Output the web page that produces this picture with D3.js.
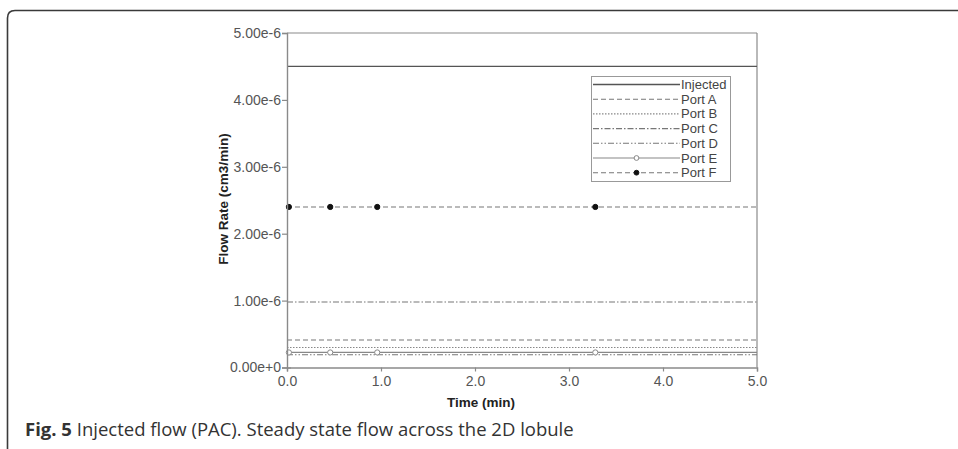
<!DOCTYPE html>
<html>
<head>
<meta charset="utf-8">
<script src="https://cdn.jsdelivr.net/npm/d3@7/dist/d3.min.js"></script>
<style>
  html, body { margin: 0; padding: 0; background: #fff; }
  svg { display: block; }
</style>
</head>
<body>
<svg id="fig" width="958" height="449"></svg>
<script>
// Steady-state flow rates (cm3/min) through the 2D lobule
const seriesNames = ["Injected", "Port A", "Port B", "Port C", "Port D", "Port E", "Port F"];
const seriesValues = [4.5e-6, 0.41e-6, 0.30e-6, 0.98e-6, 0.19e-6, 0.225e-6, 2.4e-6];
// Solver output times (min); the run spans 0 to 5 min
const sampleTimes = [0.02, 0.46, 0.96, 3.28];
const timeRange = [0, 5];
const xTickLabels = [0, 1, 2, 3, 4, 5];
const yTickLabels = [0, 1e-6, 2e-6, 3e-6, 4e-6, 5e-6];

const styles = {
  "Injected": { dash: null, color: "#555", width: 1.3, marker: null },
  "Port A":   { dash: "5,3", color: "#777", width: 1.1, marker: null },
  "Port B":   { dash: "1.5,1.5", color: "#888", width: 1.1, marker: null },
  "Port C":   { dash: "6,2,1.5,2", color: "#777", width: 1.1, marker: null },
  "Port D":   { dash: "6,2,1.5,2,1.5,2", color: "#777", width: 1.1, marker: null },
  "Port E":   { dash: null, color: "#888", width: 1.2, marker: "open" },
  "Port F":   { dash: "5,3", color: "#777", width: 1.1, marker: "filled" }
};

const svg = d3.select("#fig");
const sans = "'Liberation Sans', Arial, sans-serif";

// Figure frame with rounded top-left corner
svg.append("path")
  .attr("d", "M7.5,449 L7.5,18 Q7.5,10.5 15,10.5 L958,10.5")
  .attr("fill", "none").attr("stroke", "#3a3a3a").attr("stroke-width", 1.6);

const x = d3.scaleLinear().domain(timeRange).range([287, 757]);
const y = d3.scaleLinear().domain([0, 5e-6]).range([367.5, 33]);

const axisColor = "#8a8a8a";
const tickText = "#555";
const g = svg.append("g");

// plot box: top and right sides
g.append("line").attr("x1", x(0)).attr("x2", x(5)).attr("y1", y(5e-6)).attr("y2", y(5e-6))
  .attr("stroke", axisColor).attr("stroke-width", 1.2);
g.append("line").attr("x1", x(5)).attr("x2", x(5)).attr("y1", y(5e-6)).attr("y2", y(0))
  .attr("stroke", axisColor).attr("stroke-width", 1.2);

// series lines
const lineGen = d3.line().x(d => x(d[0])).y(d => y(d[1]));
seriesNames.forEach((name, i) => {
  const st = styles[name];
  const v = seriesValues[i];
  const pts = [timeRange[0], ...sampleTimes, timeRange[1]].map(t => [t, v]);
  g.append("path").datum(pts).attr("d", lineGen)
    .attr("fill", "none").attr("stroke", st.color)
    .attr("stroke-width", st.width)
    .attr("stroke-dasharray", st.dash);
});
seriesNames.forEach((name, i) => {
  const st = styles[name];
  if (!st.marker) return;
  g.selectAll(null).data(sampleTimes).enter().append("circle")
    .attr("cx", t => x(t)).attr("cy", y(seriesValues[i]))
    .attr("r", 2.6)
    .attr("fill", st.marker === "filled" ? "#111" : "#fff")
    .attr("stroke", st.marker === "filled" ? "#111" : "#888")
    .attr("stroke-width", 1);
});

// axes
const yAxis = g.append("g").attr("transform", `translate(${x(0)},0)`)
  .call(d3.axisLeft(y).tickValues(yTickLabels).tickFormat(d3.format(".2e")).tickSize(5).tickPadding(1));
const xAxis = g.append("g").attr("transform", `translate(0,${y(0)})`)
  .call(d3.axisBottom(x).tickValues(xTickLabels).tickFormat(d3.format(".1f")).tickSize(4).tickPadding(5));
[yAxis, xAxis].forEach(a => {
  a.select(".domain").attr("stroke", axisColor).attr("stroke-width", 1.4);
  a.selectAll(".tick line").attr("stroke", axisColor).attr("stroke-width", 1.2);
  a.selectAll(".tick text").attr("fill", tickText)
    .style("font-family", sans).style("font-size", "14px");
});
// the origin tick crosses the y axis
yAxis.selectAll(".tick").filter(d => d === 0).select("line").attr("x1", 4);

// axis titles
svg.append("text").attr("x", 481).attr("y", 407)
  .attr("text-anchor", "middle").attr("fill", "#222")
  .style("font-family", sans).style("font-size", "13.5px").style("font-weight", "bold")
  .text("Time (min)");
svg.append("text").attr("transform", `translate(228,199) rotate(-90)`)
  .attr("text-anchor", "middle").attr("fill", "#222")
  .style("font-family", sans).style("font-size", "13.5px").style("font-weight", "bold")
  .text("Flow Rate (cm3/min)");

// legend
const leg = svg.append("g");
leg.append("rect").attr("x", 591.5).attr("y", 76.5).attr("width", 139).attr("height", 105)
  .attr("fill", "#fff").attr("stroke", "#999").attr("stroke-width", 1);
const legY0 = 84.5, legDy = 14.7;
seriesNames.forEach((name, i) => {
  const st = styles[name];
  const yy = legY0 + i * legDy;
  leg.append("line").attr("x1", 593).attr("x2", 680).attr("y1", yy).attr("y2", yy)
    .attr("stroke", st.color).attr("stroke-width", st.width).attr("stroke-dasharray", st.dash);
  if (st.marker) {
    leg.append("circle").attr("cx", 636.5).attr("cy", yy).attr("r", 2.4)
      .attr("fill", st.marker === "filled" ? "#111" : "#fff")
      .attr("stroke", st.marker === "filled" ? "#111" : "#888").attr("stroke-width", 1);
  }
  leg.append("text").attr("x", 681).attr("y", yy + 4.5).attr("fill", "#444")
    .style("font-family", sans).style("font-size", "13px")
    .text(name);
});

// caption
const cap = svg.append("text").attr("x", 25).attr("y", 436).attr("fill", "#333")
  .style("font-family", "'Open Sans', 'Noto Sans', sans-serif").style("font-size", "18.5px");
cap.append("tspan").style("font-weight", "bold").text("Fig. 5");
cap.append("tspan").text(" Injected flow (PAC). Steady state flow across the 2D lobule");
</script>
</body>
</html>
